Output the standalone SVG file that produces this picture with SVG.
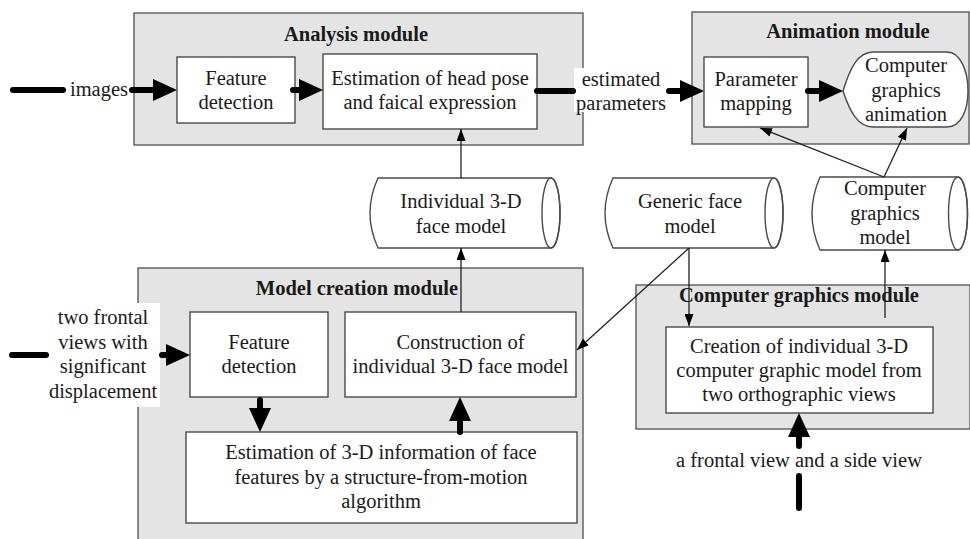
<svg xmlns="http://www.w3.org/2000/svg" width="970" height="539" viewBox="0 0 970 539" font-family="'Liberation Serif', 'Times New Roman', Times, serif">
<defs>
<style>
.module{fill:#e4e4e4;stroke:#5a5a5a;stroke-width:1.4}
.box{fill:#fff;stroke:#4a4a4a;stroke-width:1.4}
.lbl{fill:#fff;stroke:none}
text{font-family:'Liberation Serif','Times New Roman',Times,serif}
.t{font-size:20.5px;fill:#1a1a1a;text-anchor:middle}
.title{font-weight:bold}
.thick{stroke:#000;stroke-width:6;fill:none;stroke-linecap:round}
.thin{stroke:#222;stroke-width:1.3;fill:none}
.cap{fill:none;stroke:#4a4a4a;stroke-width:1.4}
</style>
<marker id="big" markerUnits="userSpaceOnUse" markerWidth="24" markerHeight="22" refX="2" refY="11" orient="auto"><path d="M0,0 L24,11 L0,22 Z" fill="#000"/></marker>
<marker id="small" markerUnits="userSpaceOnUse" markerWidth="12" markerHeight="9" refX="12" refY="4.5" orient="auto"><path d="M0,0 L12,4.5 L0,9 Z" fill="#000"/></marker>
</defs>
<rect width="970" height="539" fill="#fff"/>

<g id="analysis-module">
<rect class="module" x="134" y="13" width="449" height="132"/>
<text class="t title" x="356" y="41">Analysis module</text>
</g>
<g id="animation-module">
<rect class="module" x="692" y="12" width="277" height="132"/>
<text class="t title" x="848" y="38">Animation module</text>
</g>
<g id="model-creation-module">
<rect class="module" x="138" y="268" width="445" height="290"/>
<text class="t title" x="357" y="295">Model creation module</text>
</g>
<g id="cg-module">
<rect class="module" x="636" y="285" width="334" height="144"/>
<text class="t title" x="799" y="302">Computer graphics module</text>
</g>

<g id="label-estimated">
<rect class="lbl" x="574" y="68" width="93" height="44"/>
<text class="t" x="621" y="86">estimated</text>
<text class="t" x="621" y="110">parameters</text>
</g>
<g id="label-two-frontal">
<rect class="lbl" x="47" y="303" width="113" height="104"/>
<text class="t" x="103" y="324">two frontal</text>
<text class="t" x="103" y="348.5">views with</text>
<text class="t" x="103" y="373">significant</text>
<text class="t" x="103" y="397.5">displacement</text>
</g>
<g id="label-images">
<text class="t" x="99" y="96">images</text>
</g>
<g id="label-frontal-side">
<text class="t" x="799" y="467">a frontal view and a side view</text>
</g>

<g id="feature-detection-1">
<rect class="box" x="177" y="57" width="118" height="66"/>
<text class="t" x="236" y="85">Feature</text>
<text class="t" x="236" y="109">detection</text>
</g>
<g id="estimation-head-pose">
<rect class="box" x="323" y="54" width="214" height="75"/>
<text class="t" x="430" y="85">Estimation of head pose</text>
<text class="t" x="430" y="109">and faical expression</text>
</g>
<g id="parameter-mapping">
<rect class="box" x="704" y="57" width="104" height="70"/>
<text class="t" x="756" y="86">Parameter</text>
<text class="t" x="756" y="110">mapping</text>
</g>
<g id="cg-animation">
<path class="box" d="M843,91 C850,68 858,52 873,52 L947,52 C961,52 968,72 968,91 C968,110 961,127 947,127 L873,127 C858,127 850,112 843,91 Z"/>
<text class="t" x="906" y="72">Computer</text>
<text class="t" x="906" y="96.5">graphics</text>
<text class="t" x="906" y="121">animation</text>
</g>
<g id="individual-face-model">
<path class="box" d="M378,178 L551,178 A9,35 0 0 1 551,248 L378,248 Q362,213 378,178 Z"/>
<ellipse class="cap" cx="551" cy="213" rx="9" ry="35"/>
<text class="t" x="461" y="208">Individual 3-D</text>
<text class="t" x="461" y="233">face model</text>
</g>
<g id="generic-face-model">
<path class="box" d="M613,178 L774,178 A9,35 0 0 1 774,248 L613,248 Q597,213 613,178 Z"/>
<ellipse class="cap" cx="774" cy="213" rx="9" ry="35"/>
<text class="t" x="690" y="208">Generic face</text>
<text class="t" x="690" y="233">model</text>
</g>
<g id="cg-model">
<path class="box" d="M820,177 L958,177 A9.5,36.5 0 0 1 958,250 L820,250 Q804,213.5 820,177 Z"/>
<ellipse class="cap" cx="958" cy="213.5" rx="9.5" ry="36.5"/>
<text class="t" x="885" y="195">Computer</text>
<text class="t" x="885" y="219.5">graphics</text>
<text class="t" x="885" y="244">model</text>
</g>
<g id="feature-detection-2">
<rect class="box" x="190" y="312" width="138" height="85"/>
<text class="t" x="259" y="349">Feature</text>
<text class="t" x="259" y="373">detection</text>
</g>
<g id="construction">
<rect class="box" x="345" y="312" width="231" height="85"/>
<text class="t" x="460.5" y="349">Construction of</text>
<text class="t" x="460.5" y="373">individual 3-D face model</text>
</g>
<g id="estimation-3d">
<rect class="box" x="186" y="432" width="391" height="91"/>
<text class="t" x="381" y="459">Estimation of 3-D information of face</text>
<text class="t" x="381" y="483.5">features by a structure-from-motion</text>
<text class="t" x="381" y="508">algorithm</text>
</g>
<g id="creation-cg">
<rect class="box" x="666" y="327" width="267" height="86"/>
<text class="t" x="799" y="353">Creation of individual 3-D</text>
<text class="t" x="799" y="377">computer graphic model from</text>
<text class="t" x="799" y="401">two orthographic views</text>
</g>

<g id="connectors">
<path class="thick" d="M13,90 L63,90"/>
<path class="thick" d="M132,90 L155,90" marker-end="url(#big)"/>
<path class="thick" d="M293,90 L301,90" marker-end="url(#big)"/>
<path class="thick" d="M537,91 L573,91"/>
<path class="thick" d="M669,91 L682,91" marker-end="url(#big)"/>
<path class="thick" d="M808,91 L821,91" marker-end="url(#big)"/>
<path class="thick" d="M12,355 L46,355"/>
<path class="thick" d="M162,355 L168,355" marker-end="url(#big)"/>
<path class="thick" d="M260,400 L260,410" marker-end="url(#big)"/>
<path class="thick" d="M460,432 L460,419" marker-end="url(#big)"/>
<path class="thick" d="M799,446 L799,435" marker-end="url(#big)"/>
<path class="thick" d="M799,476 L799,508"/>
<path class="thin" d="M461,178 L461,129" marker-end="url(#small)"/>
<path class="thin" d="M461,312 L461,248" marker-end="url(#small)"/>
<path class="thin" d="M689,248 L689,326" marker-end="url(#small)"/>
<path class="thin" d="M689,248 L577,350" marker-end="url(#small)"/>
<path class="thin" d="M885,318 L885,250" marker-end="url(#small)"/>
<path class="thin" d="M884,177 L760,128" marker-end="url(#small)"/>
<path class="thin" d="M884,177 L907,128" marker-end="url(#small)"/>
</g>
</svg>
